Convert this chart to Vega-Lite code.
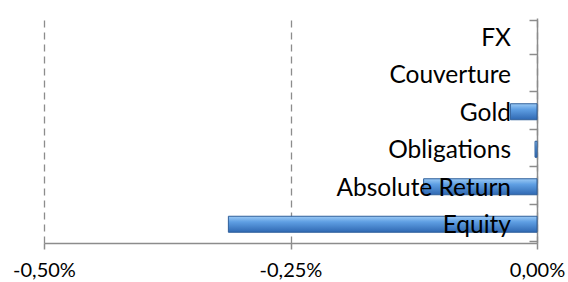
{
  "$schema": "https://vega.github.io/schema/vega-lite/v6.json",
  "width": 493,
  "height": 225,
  "autosize": "none",
  "padding": {"left": 44, "top": 18, "right": 31, "bottom": 39},
  "background": "white",
  "config": {"view": {"stroke": null}, "font": "Lato"},
  "data": {
    "values": [
      {"cat": "FX", "v": 0},
      {"cat": "Couverture", "v": 0},
      {"cat": "Gold", "v": -0.00027},
      {"cat": "Obligations", "v": -0.00002},
      {"cat": "Absolute Return", "v": -0.00115},
      {"cat": "Equity", "v": -0.00313}
    ]
  },
  "encoding": {
    "y": {
      "field": "cat", "type": "nominal", "sort": null, "title": null,
      "axis": {
        "orient": "left", "offset": -493, "labels": false, "tickBand": "extent",
        "domainColor": "#8c8c8c", "domainWidth": 1.5, "tickColor": "#8c8c8c", "tickWidth": 1.5, "tickSize": 8
      }
    }
  },
  "layer": [
    {
      "mark": {
        "type": "bar", "size": 16,
        "color": {"gradient": "linear", "x1": 0, "y1": 0, "x2": 0, "y2": 1,
          "stops": [{"offset": 0, "color": "#9ccaf5"}, {"offset": 0.35, "color": "#5f9fe3"}, {"offset": 1, "color": "#2f68b2"}]},
        "stroke": "#2f5f9a"
      },
      "encoding": {
        "x": {
          "field": "v", "type": "quantitative", "title": null,
          "scale": {"domain": [-0.005, 0], "nice": false},
          "axis": {
            "values": [-0.005, -0.0025, 0],
            "labelExpr": "replace(replace(format(datum.value, '.2%'), '.', ','), '\u2212', '-')",
            "labelFlush": false, "labelOverlap": false, "labelBound": false,
            "labelFontSize": 20, "labelColor": "#000", "labelPadding": 11,
            "domainColor": "#8c8c8c", "domainWidth": 1.5,
            "tickColor": "#8c8c8c", "tickWidth": 1.5, "tickSize": 6,
            "grid": true, "gridDash": [7, 5], "gridColor": "#8c8c8c", "gridWidth": 1.3
          }
        },
        "strokeWidth": {"condition": {"test": "datum.v == 0", "value": 0}, "value": 1}
      }
    },
    {
      "mark": {"type": "text", "align": "right", "baseline": "middle", "dx": -26, "dy": 2, "fontSize": 24.5, "color": "#000"},
      "encoding": {
        "x": {"datum": 0, "type": "quantitative"},
        "text": {"field": "cat"}
      }
    }
  ]
}
